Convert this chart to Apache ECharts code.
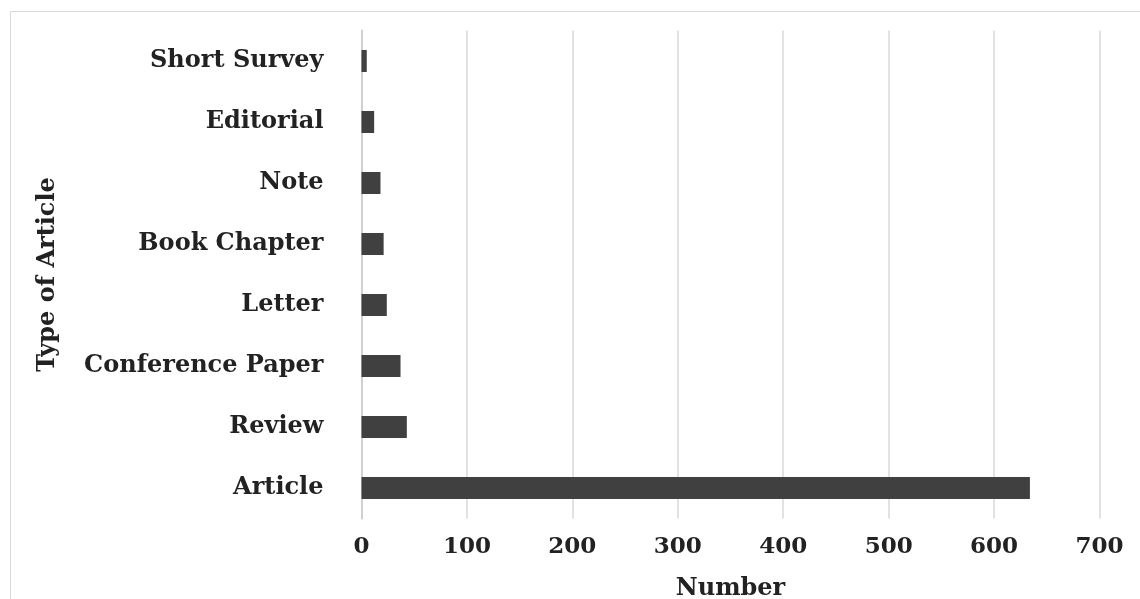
<!DOCTYPE html>
<html><head><meta charset="utf-8">
<script src="https://cdn.jsdelivr.net/npm/echarts@6/dist/echarts.min.js"></script>
<style>html,body{margin:0;padding:0;background:#fff}#c{width:1140px;height:599px}</style>
</head><body><div id="c"></div>
<script>
const categories = ['Article','Review','Conference Paper','Letter','Book Chapter','Note','Editorial','Short Survey'];
const values = [634, 43, 37, 24, 21, 18, 12, 5];
const xTicks = [0,100,200,300,400,500,600,700];
const FONT = '"DejaVu Serif", "Liberation Serif", serif';
const FS = 24;
const chart = echarts.init(document.getElementById('c'));
chart.setOption({
  animation:false,
  textStyle:{fontFamily:FONT},
  graphic:[{type:'rect',shape:{x:10.5,y:11.5,width:1200,height:700},style:{fill:'none',stroke:'#d9d9d9',lineWidth:1},silent:true}],
  grid:{left:361.5,right:40.5,top:30.5,bottom:80.5,containLabel:false,outerBoundsMode:'none'},
  xAxis:{type:'value',min:xTicks[0],max:xTicks[xTicks.length-1],interval:100,
    name:'Number',nameLocation:'middle',nameGap:58,
    nameTextStyle:{fontFamily:FONT,fontWeight:'bold',fontSize:FS,color:'#222'},
    axisLine:{show:false},axisTick:{show:false},
    axisLabel:{fontFamily:FONT,fontWeight:'bold',fontSize:23,color:'#222',margin:17},
    splitLine:{lineStyle:{color:'#d9d9d9',width:1.5}}},
  yAxis:{type:'category',data:categories,
    name:'Type of Article',nameLocation:'middle',nameGap:302,nameRotate:90,
    nameTextStyle:{fontFamily:FONT,fontWeight:'bold',fontSize:FS,color:'#222'},
    axisLine:{show:true,lineStyle:{color:'#d0d0d0',width:2}},axisTick:{show:false},
    axisLabel:{fontFamily:FONT,fontWeight:'bold',fontSize:FS,color:'#222',margin:38}},
  series:[{type:'bar',data:values,barWidth:22,itemStyle:{color:'#404040'}}]
});
</script></body></html>
